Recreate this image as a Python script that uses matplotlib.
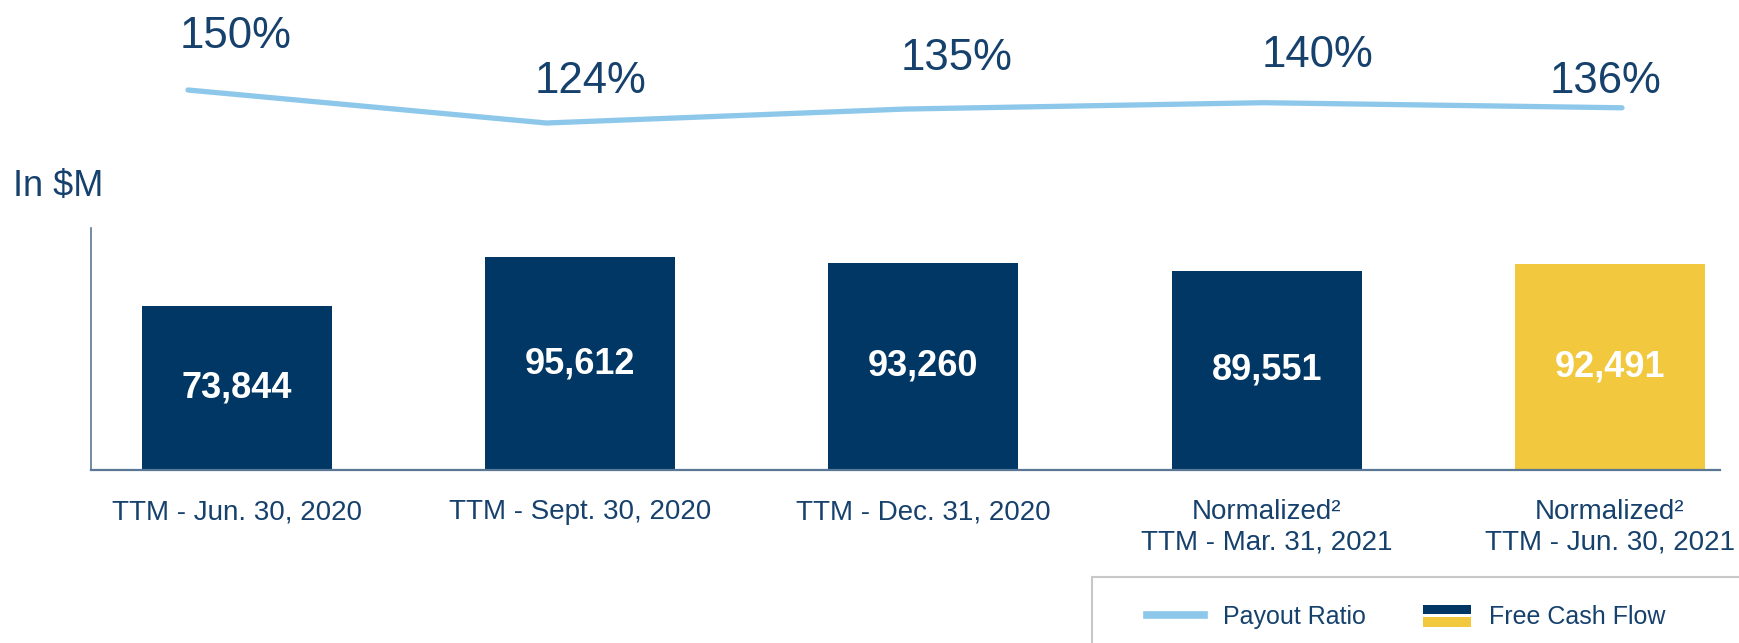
import matplotlib
matplotlib.use("Agg")
import matplotlib.pyplot as plt
from matplotlib.patches import Rectangle
from matplotlib.lines import Line2D
from matplotlib.legend_handler import HandlerBase

categories = ["TTM - Jun. 30, 2020", "TTM - Sept. 30, 2020", "TTM - Dec. 31, 2020",
              "Normalized²\nTTM - Mar. 31, 2021", "Normalized²\nTTM - Jun. 30, 2021"]
free_cash_flow = [73844, 95612, 93260, 89551, 92491]
payout_ratio = [150, 124, 135, 140, 136]
value_labels = ["73,844", "95,612", "93,260", "89,551", "92,491"]
pct_labels = ["150%", "124%", "135%", "140%", "136%"]

NAVY = "#003764"
YELLOW = "#F2C83E"
LIGHT_BLUE = "#8DC8EA"
TEXT = "#17416D"
AXIS = "#5B7796"

plt.rcParams['font.family'] = ['Liberation Sans', 'DejaVu Sans']

W, H = 1739, 643
fig = plt.figure(figsize=(W / 100, H / 100), dpi=100)

# bar axes
ax = fig.add_axes([91 / W, (H - 470) / H, (1720 - 91) / W, (470 - 228) / H])
x = list(range(len(categories)))
colors = [NAVY, NAVY, NAVY, NAVY, YELLOW]
bars = ax.bar(x, free_cash_flow, width=0.5535, color=colors, zorder=2)
ax.bar_label(bars, labels=value_labels, label_type='center', color='white',
             fontsize=26, fontweight='bold')
ax.set_xlim(-0.4253, 4.3205)
ax.set_ylim(0, 108780)
ax.set_yticks([])
ax.set_xticks(x)
ax.set_xticklabels(categories, fontsize=20, color=TEXT, linespacing=1.2)
ax.tick_params(axis='x', length=0, pad=21)
for s in ['top', 'right']:
    ax.spines[s].set_visible(False)
ax.spines['left'].set_color(AXIS)
ax.spines['bottom'].set_color(AXIS)
ax.spines['left'].set_linewidth(1.2)
ax.spines['bottom'].set_linewidth(1.6)

# payout ratio line axes
ax2 = fig.add_axes([0, (H - 160) / H, 1, 160 / H])
ax2.set_xlim(-188 / 358.5, (W - 188) / 358.5)
ax2.set_ylim(150 - 70 / 1.27, 150 + 90 / 1.27)
ax2.set_axis_off()
ax2.plot(x, payout_ratio, color=LIGHT_BLUE, lw=3.8, solid_capstyle='round',
         solid_joinstyle='round')
label_offsets = [(34, 30), (32, 21.5), (37, 28), (39, 26), (-12, 11)]
for i, (v, t) in enumerate(zip(payout_ratio, pct_labels)):
    ax2.annotate(t, (i, v), xytext=label_offsets[i], textcoords='offset points',
                 ha='center', va='baseline', fontsize=31.5, color=TEXT)

fig.text(13 / W, (H - 196) / H, "In $M", fontsize=26, color=TEXT, va='baseline')

# legend
fig.patches.append(Rectangle((1092 / W, -0.02), 0.5, (643 - 577) / H + 0.02,
                             transform=fig.transFigure, facecolor='white',
                             edgecolor='#C8C8C8', lw=1.5, zorder=0))


class StackedHandler(HandlerBase):
    def create_artists(self, legend, orig_handle, xdescent, ydescent, width, height,
                       fontsize, trans):
        w = width * 0.83
        x0 = -xdescent + (width - w)
        h = height * 0.45
        top = Rectangle((x0, -ydescent + height * 0.55), w, h, facecolor=NAVY,
                        edgecolor='none', transform=trans)
        bot = Rectangle((x0, -ydescent - height * 0.05), w, h, facecolor=YELLOW,
                        edgecolor='none', transform=trans)
        return [top, bot]


line_handle = Line2D([], [], color=LIGHT_BLUE, lw=5.5)
fcf_handle = Rectangle((0, 0), 1, 1)
leg = fig.legend([line_handle, fcf_handle], ["Payout Ratio", "Free Cash Flow"],
                 handler_map={Rectangle: StackedHandler()},
                 loc='center left', bbox_to_anchor=(1134 / W, (H - 617) / H),
                 ncol=2, frameon=False, fontsize=18, borderpad=0,
                 handlelength=2.3, handletextpad=0.75, columnspacing=1.9,
                 handleheight=0.9)
for t in leg.get_texts():
    t.set_color(TEXT)

fig.savefig("out.png", dpi=100)
